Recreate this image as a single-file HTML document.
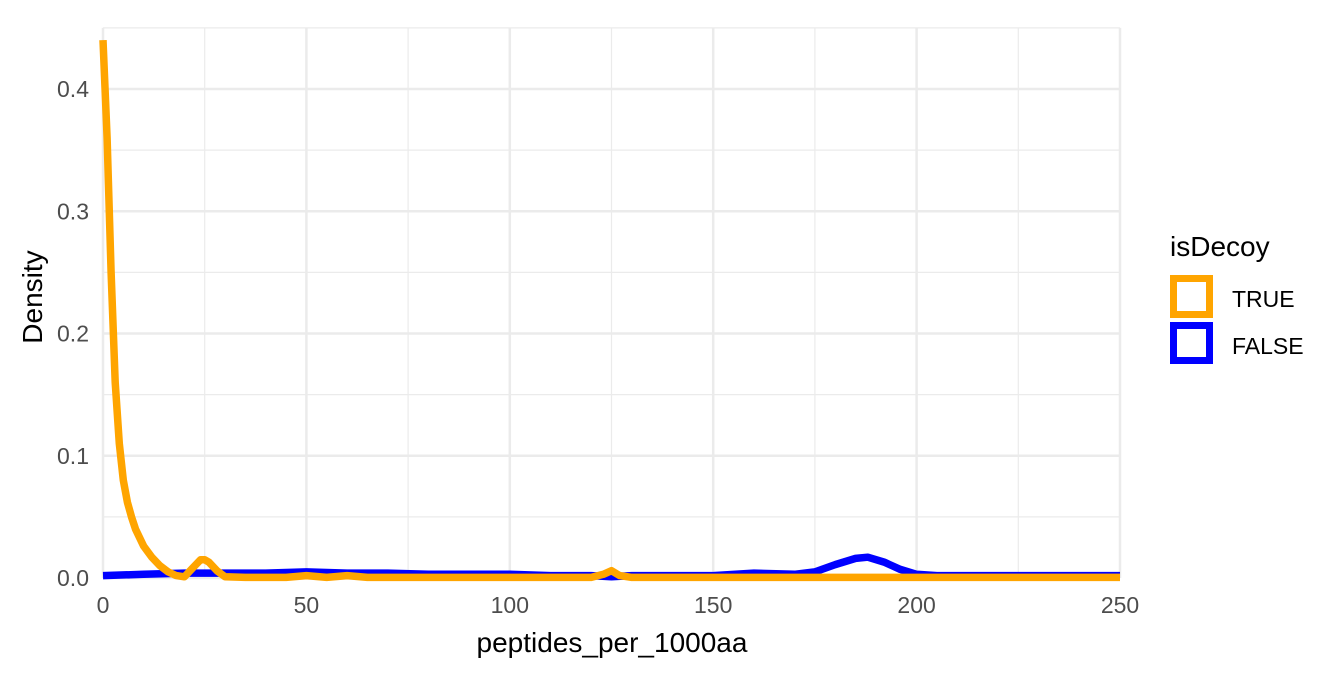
<!DOCTYPE html>
<html><head><meta charset="utf-8"><style>
body{margin:0;background:#fff}
svg text{font-family:"Liberation Sans",sans-serif}
</style></head><body>
<svg width="1344" height="672" xmlns="http://www.w3.org/2000/svg">
<g id="grid"></g>
<g id="series"></g>
<g id="axes"></g>
<text x="612" y="652" font-size="28" text-anchor="middle" fill="#000">peptides_per_1000aa</text>
<text transform="translate(42,297) rotate(-90)" font-size="28" text-anchor="middle" fill="#000">Density</text>
<g>
<text x="1170" y="256" font-size="28" fill="#000">isDecoy</text>
<rect x="1173.5" y="278.5" width="36" height="36" fill="none" stroke="#FFA500" stroke-width="7"/>
<text x="1232" y="307" font-size="23" fill="#000">TRUE</text>
<rect x="1173.5" y="325.5" width="36" height="35" fill="none" stroke="#0000FF" stroke-width="7"/>
<text x="1232" y="354" font-size="23" fill="#000">FALSE</text>
</g>
</svg>
<script>
const xTicks=[0,50,100,150,200,250];
const yTicks=[0,0.1,0.2,0.3,0.4];
const trueX=[0,1,2,3,4,5,6,7,8,10,12,14,16,18,20,22,24,25,26,28,30,35,45,50,55,60,65,70,120,123,125,127,130,200,250];
const trueY=[0.44,0.36,0.25,0.16,0.11,0.08,0.062,0.05,0.04,0.026,0.017,0.01,0.005,0.002,0.001,0.008,0.015,0.015,0.013,0.006,0.001,0.0005,0.0005,0.002,0.0005,0.002,0.0005,0.0005,0.0005,0.003,0.006,0.002,0.0005,0.0005,0.0005];
const falseX=[0,10,20,30,40,50,60,70,80,90,100,110,120,125,130,140,150,160,170,175,180,185,188,192,196,200,205,210,220,230,240,250];
const falseY=[0.002,0.003,0.004,0.004,0.004,0.005,0.004,0.004,0.003,0.003,0.003,0.002,0.002,0.001,0.002,0.002,0.002,0.004,0.003,0.005,0.011,0.016,0.017,0.013,0.007,0.003,0.002,0.002,0.002,0.002,0.002,0.002];
const X0=103,X1=1120,Y0=578;
const sx=v=>X0+(X1-X0)*v/250;
const sy=v=>Y0-v*1222.5;
const NS="http://www.w3.org/2000/svg";
function mk(t,a,p){const e=document.createElementNS(NS,t);for(const k in a)e.setAttribute(k,a[k]);p.appendChild(e);return e;}
const g=document.getElementById('grid');
for(let v=0;v<=0.45001;v+=0.05){const major=Math.round(v*100)%10===0;
const l=mk('line',{x1:X0,x2:X1,y1:sy(v),y2:sy(v),stroke:'#ebebeb','stroke-width':major?2.5:1.2},g);

}
for(let v=0;v<=250;v+=25){const major=v%50===0;
const l=mk('line',{x1:sx(v),x2:sx(v),y1:sy(0.45),y2:Y0,stroke:'#ebebeb','stroke-width':major?2.5:1.2},g);

}
const s=document.getElementById('series');
function line(xs,ys,c,n){const d=xs.map((x,i)=>(i?'L':'M')+sx(x).toFixed(1)+','+sy(ys[i]).toFixed(1)).join('');
const p=mk('path',{d:d,fill:'none',stroke:c,'stroke-width':7.5,'stroke-linejoin':'round'},s);

}
line(falseX,falseY,'#0000FF','density-false');
line(trueX,trueY,'#FFA500','density-true');
const a=document.getElementById('axes');
xTicks.forEach(v=>{const t=mk('text',{x:sx(v),y:613,'font-size':23,'text-anchor':'middle',fill:'#4d4d4d'},a);t.textContent=v;

});
yTicks.forEach(v=>{const t=mk('text',{x:89,y:sy(v)+8,'font-size':23,'text-anchor':'end',fill:'#4d4d4d'},a);t.textContent=v.toFixed(1);

});
</script>
</body></html>
